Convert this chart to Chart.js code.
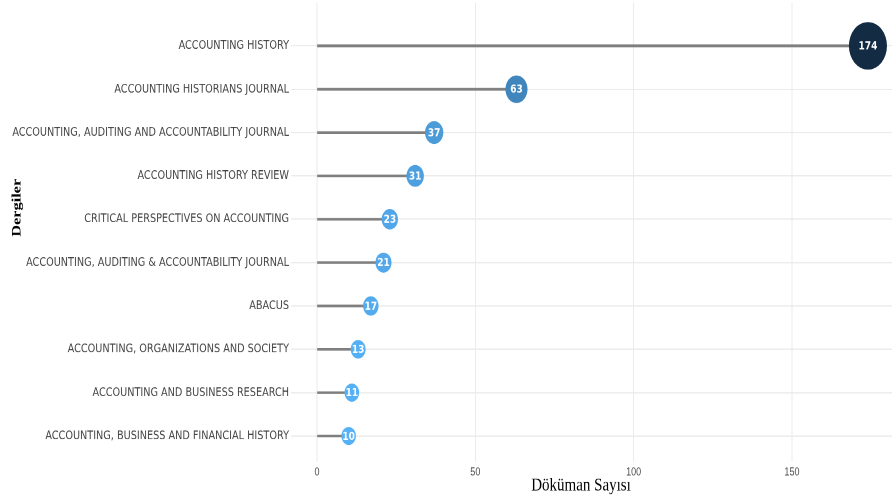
<!DOCTYPE html>
<html><head><meta charset="utf-8">
<script src="https://cdn.jsdelivr.net/npm/chart.js@4"></script>
<style>
html,body{margin:0;padding:0;background:#fff;overflow:hidden;}
#wrap{position:absolute;left:0;top:0;width:892px;height:398px;transform:scaleY(1.2513);transform-origin:0 0;}
</style></head><body>
<div id="wrap"><canvas id="c"></canvas></div>
<script>
const categories = [
  'ACCOUNTING HISTORY',
  'ACCOUNTING HISTORIANS JOURNAL',
  'ACCOUNTING, AUDITING AND ACCOUNTABILITY JOURNAL',
  'ACCOUNTING HISTORY REVIEW',
  'CRITICAL PERSPECTIVES ON ACCOUNTING',
  'ACCOUNTING, AUDITING & ACCOUNTABILITY JOURNAL',
  'ABACUS',
  'ACCOUNTING, ORGANIZATIONS AND SOCIETY',
  'ACCOUNTING AND BUSINESS RESEARCH',
  'ACCOUNTING, BUSINESS AND FINANCIAL HISTORY'
];
const values = [174, 63, 37, 31, 23, 21, 17, 13, 11, 10];
const xTicks = [0, 50, 100, 150];
const xTitle = 'Döküman Sayısı';
const yTitle = 'Dergiler';

const lowColor = [86, 177, 247];   // #56B1F7
const highColor = [19, 43, 67];    // #132B43
const vMin = Math.min(...values), vMax = Math.max(...values);
function colorFor(v) {
  const t = (v - vMin) / (vMax - vMin);
  const c = lowColor.map((l, k) => Math.round(l + (highColor[k] - l) * t));
  return `rgb(${c[0]},${c[1]},${c[2]})`;
}
function radiusFor(v) { return 6.5 + 0.072 * v; }

const labelPlugin = {
  id: 'labels',
  afterDatasetsDraw(chart) {
    const ctx = chart.ctx;
    const meta = chart.getDatasetMeta(1);
    ctx.save();
    ctx.fillStyle = '#ffffff';
    ctx.font = '600 9px "DejaVu Sans"';
    ctx.textAlign = 'center';
    ctx.textBaseline = 'middle';
    meta.data.forEach((el, i) => {
      ctx.fillText(String(values[i]), el.x, el.y + 0.5);
    });
    ctx.restore();
  },
  afterDraw(chart) {
    const ctx = chart.ctx;
    ctx.save();
    ctx.fillStyle = '#000';
    ctx.textAlign = 'center';
    ctx.textBaseline = 'middle';
    ctx.font = '15px "Liberation Serif"';
    ctx.fillText(xTitle, 581, 388);
    ctx.translate(17, 166);
    ctx.rotate(-Math.PI / 2);
    ctx.font = 'bold 13px "Liberation Serif"';
    ctx.fillText(yTitle, 0, 0);
    ctx.restore();
  }
};

new Chart(document.getElementById('c'), {
  type: 'bubble',
  data: {
    datasets: [
      {
        type: 'bar',
        indexAxis: 'y',
        data: values.map((v, i) => ({ x: v, y: i })),
        backgroundColor: '#7f7f7f',
        barThickness: 1.5,
        borderWidth: 0,
        order: 2
      },
      {
        type: 'bubble',
        data: values.map((v, i) => ({ x: v, y: i, r: radiusFor(v) })),
        backgroundColor: values.map(colorFor),
        borderWidth: 0,
        clip: false,
        order: 1
      }
    ]
  },
  options: {
    responsive: true,
    maintainAspectRatio: false,
    animation: false,
    devicePixelRatio: 2,
    layout: { autoPadding: false, padding: { top: 2, right: 0, left: 0, bottom: 12 } },
    plugins: { legend: { display: false }, tooltip: { enabled: false } },
    scales: {
      x: {
        type: 'linear',
        min: 0,
        max: 181.6,
        offset: false,
        afterBuildTicks: (s) => { s.ticks = xTicks.map(v => ({ value: v })); },
        afterFit: (s) => { s.paddingLeft = 0; s.paddingRight = 0; },
        grid: { color: '#ebebeb', lineWidth: 1, drawTicks: false, offset: false },
        border: { display: false },
        ticks: { padding: 3, color: '#4d4d4d', font: { family: 'Liberation Sans', size: 9 } }
      },
      y: {
        type: 'linear',
        min: -1,
        max: 9.6,
        reverse: true,
        offset: false,
        afterBuildTicks: (s) => { s.ticks = categories.map((c, i) => ({ value: i })); },
        afterFit: (s) => { s.width = 317; s.paddingTop = 0; s.paddingBottom = 0; },
        grid: { color: '#ebebeb', lineWidth: 1, tickLength: 26, tickColor: '#ebebeb', offset: false },
        border: { display: false },
        ticks: {
          padding: 2,
          color: '#444444',
          font: { family: 'DejaVu Sans', size: 9.7 },
          callback: (v) => categories[v]
        }
      }
    }
  },
  plugins: [labelPlugin]
});
</script>
</body></html>
